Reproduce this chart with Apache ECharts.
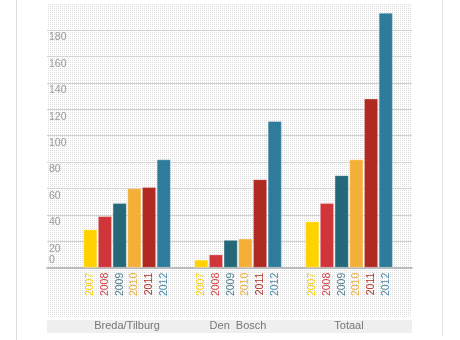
<!DOCTYPE html>
<html>
<head>
<meta charset="utf-8">
<script src="https://cdn.jsdelivr.net/npm/echarts@6/dist/echarts.min.js"></script>
<style>
  html, body { margin: 0; padding: 0; background: #fff; }
  #chart { width: 460px; height: 340px; }
</style>
</head>
<body>
<div id="chart"></div>
<script>
// Regions and years
const categories = ['Breda/Tilburg', 'Den  Bosch', 'Totaal'];
const years = ['2007', '2008', '2009', '2010', '2011', '2012'];

// Counts per year, one value per region
const values2007 = [29, 6, 35];
const values2008 = [39, 10, 49];
const values2009 = [49, 21, 70];
const values2010 = [60, 22, 82];
const values2011 = [61, 67, 128];
const values2012 = [82, 111, 193];

const yTicks = [0, 20, 40, 60, 80, 100, 120, 140, 160, 180];

const seriesValues = [values2007, values2008, values2009, values2010, values2011, values2012];
const barColors = ['#ffd200', '#d03539', '#246879', '#f3af37', '#b02a21', '#2f7b9b'];
const labelColors = ['#ffd200', '#d8424a', '#4f7f95', '#f3af37', '#b5312a', '#4a8db0'];

const FONT = '"Liberation Sans Narrow", "Liberation Sans", sans-serif';

// Fine dotted fill used behind the plot
const dot = document.createElement('canvas');
dot.width = 2; dot.height = 2;
const dctx = dot.getContext('2d');
dctx.fillStyle = '#ffffff';
dctx.fillRect(0, 0, 2, 2);
dctx.fillStyle = '#dddddd';
dctx.fillRect(0, 0, 1, 1);

const chart = echarts.init(document.getElementById('chart'), null, { renderer: 'canvas' });

const plotTop = 3.6;
const plotHeight = 264.1;

const option = {
  animation: false,
  backgroundColor: '#ffffff',
  graphic: {
    z: -10,
    elements: [
      { type: 'rect', z: -10, shape: { x: 47, y: 3.3, width: 365, height: 313.5 },
        style: { fill: { image: dot, repeat: 'repeat' } }, silent: true },
      { type: 'rect', z: -10, shape: { x: 47, y: 320, width: 365, height: 13 },
        style: { fill: '#efefef' }, silent: true },
      { type: 'line', z: -10, shape: { x1: 16.5, y1: 0, x2: 16.5, y2: 340 },
        style: { stroke: '#dddddd', lineWidth: 1 }, silent: true },
      { type: 'line', z: -10, shape: { x1: 442.5, y1: 0, x2: 442.5, y2: 336 },
        style: { stroke: '#e6e6e6', lineWidth: 1 }, silent: true }
    ]
  },
  grid: [
    // value axis, gridlines and baseline
    { left: 47, width: 365, top: plotTop, height: plotHeight, containLabel: false },
    // bars
    { left: 71.5, width: 333, top: plotTop, height: plotHeight, containLabel: false }
  ],
  xAxis: [
    {
      gridIndex: 0, type: 'category', data: categories,
      axisLine: { show: true, lineStyle: { color: '#a9a9a9', width: 1.5 } },
      axisTick: { show: false }, axisLabel: { show: false }, splitLine: { show: false }
    },
    {
      gridIndex: 1, type: 'category', data: categories,
      axisLine: { show: false }, axisTick: { show: false },
      axisLabel: { interval: 0, margin: 53, color: '#777777', fontSize: 11, fontFamily: FONT }
    }
  ],
  yAxis: [
    {
      gridIndex: 0, type: 'value', min: 0, max: 200, interval: 20,
      axisLine: { show: false }, axisTick: { show: false },
      splitLine: { show: true, showMaxLine: false, showMinLine: false, lineStyle: { color: '#d2d2d2', width: 1 } },
      axisLabel: {
        inside: true, align: 'left', verticalAlign: 'top', margin: 2, padding: [2, 0, 0, 0],
        color: '#999999', fontSize: 10.5, fontFamily: FONT,
        formatter: v => (yTicks.indexOf(v) > 0 ? String(v) : '')
      }
    },
    {
      gridIndex: 0, type: 'value', min: 0, max: 200, interval: 20, position: 'left',
      axisLine: { show: false }, axisTick: { show: false }, splitLine: { show: false },
      axisLabel: {
        inside: true, align: 'left', verticalAlign: 'bottom', margin: 2, padding: [0, 0, 2, 0],
        color: '#999999', fontSize: 10.5, fontFamily: FONT,
        formatter: v => (v === yTicks[0] ? String(v) : '')
      }
    },
    { gridIndex: 1, type: 'value', min: 0, max: 200, show: false }
  ],
  series: years.map((yr, i) => ({
    name: yr,
    type: 'bar',
    xAxisIndex: 1,
    yAxisIndex: 2,
    data: seriesValues[i],
    barWidth: 14,
    barGap: '5%',
    clip: false,
    itemStyle: { color: barColors[i], borderColor: 'rgba(255,255,255,0.35)', borderWidth: 0.8 },
    label: {
      show: true, position: 'bottom', distance: 5, rotate: 90,
      align: 'right', verticalAlign: 'middle',
      color: labelColors[i], fontSize: 10.5, fontFamily: FONT,
      formatter: p => p.seriesName
    }
  }))
};

chart.setOption(option);
</script>
</body>
</html>
